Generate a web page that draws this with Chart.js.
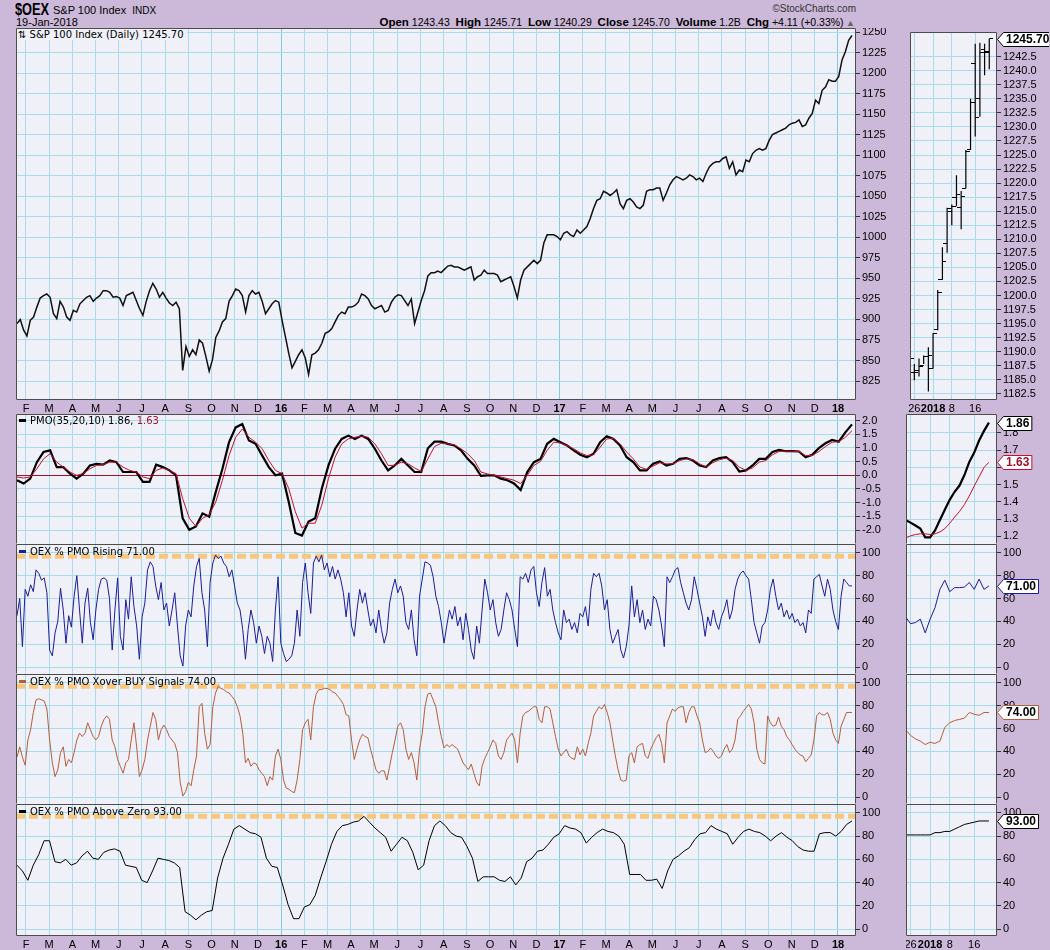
<!DOCTYPE html>
<html>
<head>
<meta charset="utf-8">
<script src="https://cdn.jsdelivr.net/npm/chart.js@4"></script>
<style>
body{margin:0;width:1050px;height:950px;background:#ccb8d8;position:relative;overflow:hidden;font-family:"Liberation Sans",Arial,sans-serif;}
canvas{position:absolute;z-index:1;}
.t{position:absolute;white-space:nowrap;color:#000;z-index:5;}
.leg{position:absolute;white-space:nowrap;font:10px "DejaVu Sans",sans-serif;color:#000;z-index:5;}
.leg i{display:inline-block;width:7px;height:3px;vertical-align:middle;margin:0 4px 2px 1px;}
</style>
</head>
<body>

<div class="t" style="left:15px;top:1px;font-size:16px;font-weight:bold;transform:scaleX(0.8);transform-origin:0 0">$OEX</div>
<div class="t" style="left:53px;top:4px;font-size:11px">S&amp;P 100 Index&nbsp; <span style="font-size:10px">INDX</span></div>
<div class="t" style="left:16px;top:16px;font-size:11px">19-Jan-2018</div>
<div class="t" style="right:194px;top:3px;font-size:10px;color:#333">&copy;StockCharts.com</div>
<div class="t" style="right:195px;top:16px;font-size:10.5px"><b style="font-size:11.5px">Open</b> 1243.43 &nbsp;<b style="font-size:11.5px">High</b> 1245.71 &nbsp;<b style="font-size:11.5px">Low</b> 1240.29 &nbsp;<b style="font-size:11.5px">Close</b> 1245.70 &nbsp;<b style="font-size:11.5px">Volume</b> 1.2B &nbsp;<b style="font-size:11.5px">Chg</b> +4.11 (+0.33%)<span style="color:#666;font-size:9px"> &#9650;</span></div>

<div id="legends"></div>

<script>
// ---- data ----------------------------------------------------------------
// month labels of the main x axis (Feb 2015 .. Jan 2018)
const MONTHS = ['F','M','A','M','J','J','A','S','O','N','D','16','F','M','A','M','J','J','A','S','O','N','D','17','F','M','A','M','J','J','A','S','O','N','D','18'];

// S&P 100 daily close, read every 3rd session from 20-Jan-2015 to 19-Jan-2018
const PRICE = [
895,900,887,880,899,903,915,926,929,931,
927,907,901,922,915,903,899,911,909,919,
923,927,929,922,926,929,935,935,933,927,
928,926,917,929,931,933,923,913,905,922,
935,944,937,927,933,926,920,917,921,913,
838,867,855,863,857,875,871,855,837,851,
878,886,897,901,922,929,937,935,929,909,
929,935,931,933,922,907,913,919,923,921,
899,879,859,841,849,857,863,853,833,857,
859,863,871,883,885,889,897,905,909,907,
915,915,917,921,931,929,925,917,913,915,
917,909,911,921,927,930,929,923,917,925,
895,909,923,935,953,957,957,959,957,961,
965,966,964,964,962,960,962,964,948,952,
954,960,956,956,956,954,946,948,950,952,
940,926,948,960,964,968,972,968,972,993,
1003,1003,1003,1001,997,1005,1007,1003,1001,1009,
1005,1009,1013,1023,1035,1045,1047,1056,1054,1051,
1054,1058,1041,1035,1045,1047,1043,1037,1035,1039,
1056,1058,1058,1060,1060,1045,1054,1064,1070,1074,
1072,1070,1072,1076,1074,1070,1072,1068,1078,1086,
1090,1092,1092,1096,1098,1084,1092,1076,1082,1080,
1094,1092,1102,1106,1108,1106,1108,1118,1125,1127,
1129,1131,1133,1137,1139,1140,1143,1135,1137,1145,
1151,1167,1163,1179,1183,1192,1190,1190,1196,1216,
1226,1240,1245.7];

// PMO(35,20,10) and its signal line, every 6th session
const PMO = [
-0.18,-0.30,-0.12,0.48,0.85,0.91,0.30,0.30,0.06,-0.12,
0.06,0.36,0.42,0.39,0.54,0.48,0.12,0.12,0.12,-0.24,
-0.24,0.39,0.30,0.18,0.0,-1.57,-1.99,-1.87,-1.39,-1.51,
-0.60,0.24,1.21,1.75,1.87,1.27,1.15,0.72,0.30,0.0,
0.06,-0.97,-2.11,-2.20,-1.69,-1.57,-0.48,0.36,0.97,1.33,
1.45,1.33,1.45,1.33,0.97,0.54,0.18,0.36,0.60,0.36,
0.12,0.12,0.99,1.23,1.23,1.15,1.09,0.91,0.60,0.36,
-0.02,0.0,0.0,-0.12,-0.18,-0.30,-0.54,0.12,0.48,0.60,
1.15,1.33,1.21,1.09,0.91,0.75,0.66,0.79,1.21,1.43,
1.33,1.09,0.66,0.48,0.18,0.18,0.42,0.51,0.36,0.42,
0.60,0.63,0.54,0.36,0.30,0.54,0.63,0.66,0.48,0.14,
0.18,0.36,0.60,0.60,0.85,0.93,0.88,0.88,0.87,0.66,
0.75,0.99,1.17,1.29,1.23,1.57,1.86];
const PMO_SIGNAL = [
-0.06,-0.10,-0.06,0.24,0.60,0.79,0.48,0.30,0.12,0.0,
0.06,0.24,0.36,0.39,0.48,0.48,0.30,0.18,0.12,-0.06,
-0.12,0.18,0.27,0.18,0.06,-0.85,-1.57,-1.87,-1.57,-1.45,
-0.97,-0.18,0.72,1.39,1.69,1.39,1.21,0.97,0.54,0.18,
0.06,-0.48,-1.33,-1.93,-1.75,-1.75,-1.09,-0.12,0.66,1.15,
1.33,1.39,1.43,1.39,1.15,0.79,0.36,0.36,0.48,0.42,
0.27,0.14,0.60,1.05,1.17,1.15,1.11,0.97,0.79,0.54,
0.12,0.05,0.0,-0.06,-0.12,-0.18,-0.30,0.0,0.36,0.51,
0.91,1.21,1.18,1.09,0.97,0.82,0.72,0.75,1.03,1.33,
1.35,1.15,0.85,0.60,0.30,0.22,0.34,0.46,0.42,0.42,
0.54,0.60,0.57,0.42,0.30,0.46,0.57,0.63,0.54,0.30,
0.18,0.27,0.48,0.54,0.75,0.87,0.88,0.88,0.87,0.72,
0.72,0.87,1.05,1.21,1.23,1.39,1.63];

// OEX % PMO Rising, every 2-3 sessions
const RISING = [
45,60,18,68,62,72,66,85,82,76, 78,65,15,10,30,40,69,50,21,45,
35,62,80,50,21,56,69,39,24,50, 68,77,78,76,60,15,50,78,27,15,
59,42,79,53,36,7,44,56,85,92, 88,71,59,74,50,56,36,50,65,36,
10,1,36,50,44,71,88,95,65,50, 18,74,91,98,95,97,91,88,79,85,
71,56,50,33,7,33,50,39,21,36, 27,12,27,21,5,50,79,21,12,5,
7,10,21,50,27,74,91,65,47,91, 97,92,98,85,91,79,88,77,85,77,
65,44,65,36,27,50,68,56,65,50, 36,42,30,50,33,21,30,56,68,77,
65,71,62,39,33,50,24,10,62,77, 92,91,89,79,62,53,39,21,36,50,
42,53,36,44,24,47,33,15,7,36, 21,50,77,65,50,59,39,27,33,50,
65,59,50,33,18,79,77,82,74,85, 88,65,53,74,87,62,68,50,39,30,
24,50,39,42,33,39,30,47,44,53, 36,68,82,79,82,71,50,59,33,21,
27,33,15,8,18,36,71,44,59,39, 50,33,42,36,62,59,50,36,18,79,
74,79,85,87,74,65,56,50,59,79, 68,56,44,27,44,36,50,39,33,44,
50,59,42,50,68,77,82,84,80,77, 59,39,30,21,36,39,50,68,77,62,
50,56,44,50,42,47,39,42,36,39, 30,50,47,77,79,81,71,62,77,68,
50,40,33,62,77,74,71,71];

// OEX % PMO Xover BUY Signals, every 2-3 sessions
const XOVER = [
35,44,35,28,50,59,74,85,86,85, 84,77,50,30,18,24,39,44,27,33,
30,39,50,56,53,56,65,59,53,50, 53,62,68,71,68,50,44,33,27,21,
30,33,50,65,44,18,24,33,50,62, 74,68,50,59,63,59,53,50,47,39,
13,1,5,13,10,24,36,79,82,56, 42,46,79,91,97,95,94,92,91,88,
85,79,71,56,30,34,27,30,29,24, 21,18,10,18,15,36,42,33,15,8,
7,5,4,15,33,59,65,68,50,79, 90,94,94,95,95,94,92,91,88,85,
81,72,71,50,33,42,50,55,53,52, 42,33,24,21,23,23,15,27,39,50,
62,65,59,42,33,39,30,15,42,56, 79,90,91,85,79,65,53,43,46,44,
46,44,42,36,30,27,24,29,21,13, 10,27,34,39,44,50,47,36,33,39,
50,53,56,50,30,56,71,74,75,77, 79,79,68,65,79,79,77,65,53,42,
36,39,42,36,34,33,44,37,42,36, 47,56,71,75,79,77,81,74,65,50,
36,24,15,14,15,36,39,30,44,46, 47,36,34,42,47,52,55,47,30,65,
71,77,75,78,79,79,65,74,79,79, 71,65,50,39,40,43,40,36,34,36,
42,46,39,42,50,68,71,75,78,81, 77,65,42,33,30,29,71,65,62,63,
70,62,59,53,50,46,42,39,37,36, 31,34,37,50,71,74,72,72,74,68,
56,50,47,62,68,74,74,74];

// OEX % PMO Above Zero, every 5 sessions
const ABOVE_ZERO = [
55,50,42,55,64,76,76,58,57,60, 55,57,63,67,61,60,66,68,69,67,
55,54,53,42,40,50,61,60,59,57, 53,15,12,8,12,15,16,44,61,73,
86,89,86,83,82,79,61,54,53,38, 21,9,9,19,21,29,44,58,73,84,
89,90,92,93,97,92,87,83,79,67, 73,79,76,66,51,55,76,89,93,89,
83,80,79,71,61,41,45,45,45,42, 41,45,38,44,58,61,67,68,73,79,
82,89,87,86,83,74,79,83,86,84, 83,80,73,47,47,47,42,42,43,35,
50,60,63,67,70,77,82,83,89,86, 84,82,73,79,84,86,84,83,80,76,
80,83,79,76,71,68,67,67,82,83, 83,80,84,90,93];

// right-hand close-up: last 18 sessions (22-Dec-2017 .. 19-Jan-2018)
const R_DAYS   = ['22','26','27','28','29','2','3','4','5','8','9','10','11','12','16','17','18','19'];
const R_HIGH   = [1189.6,1187.8,1188.8,1189.3,1190.8,1193.3,1201.0,1208.6,1215.6,1216.2,1221.4,1218.6,1225.9,1235.0,1244.8,1245.0,1244.8,1245.71];
const R_LOW    = [1187.9,1184.9,1185.6,1187.8,1182.9,1187.0,1193.8,1202.8,1207.6,1212.5,1215.9,1211.8,1219.1,1225.9,1228.3,1231.8,1239.2,1240.29];
const R_OPEN   = [1189.0,1186.3,1186.7,1187.6,1189.2,1187.0,1194.0,1202.8,1209.2,1214.9,1217.4,1215.6,1219.1,1226.0,1241.3,1235.0,1243.7,1243.43];
const R_CLOSE  = [1188.8,1186.3,1187.3,1189.2,1189.3,1193.3,1200.6,1206.1,1215.5,1215.9,1218.0,1217.7,1225.7,1234.3,1231.7,1243.3,1243.3,1245.70];
const R_PMO    = [1.295,1.280,1.263,1.245,1.195,1.195,1.235,1.295,1.355,1.412,1.459,1.495,1.556,1.632,1.686,1.756,1.812,1.86];
const R_SIGNAL = [1.191,1.203,1.211,1.215,1.215,1.211,1.215,1.226,1.245,1.276,1.312,1.345,1.385,1.435,1.492,1.546,1.600,1.63];
const R_RISING = [44,38,39,42,30,42,52,68,76,66,69.5,69.5,70,74,68,77,68,71];
const R_XOVER  = [59,54,51,49,46,48,47,49,61,65,67,68,69,74,72.5,71.5,74,74];
const R_ABOVE  = [81,81,81,81,81,81,83,83,84,84,86,88,90,91,92,93,93,93];
const R_TICK_DAYS = [1,5,9,14];  // 26, 2018, 8, 16

// tick values
const PRICE_TICKS = [825,850,875,900,925,950,975,1000,1025,1050,1075,1100,1125,1150,1175,1200,1225,1250];
const PMO_TICKS = [-2,-1.5,-1,-0.5,0,0.5,1,1.5,2];
const PCT_TICKS = [0,20,40,60,80,100];
const R_PRICE_TICKS = [1182.5,1185,1187.5,1190,1192.5,1195,1197.5,1200,1202.5,1205,1207.5,1210,1212.5,1215,1217.5,1220,1222.5,1225,1227.5,1230,1232.5,1235,1237.5,1240,1242.5];
const R_PMO_TICKS = [1.2,1.3,1.4,1.5,1.6,1.7,1.8];
const SIGNAL_LEVEL = 97;

// ---- look ----------------------------------------------------------------
const PLOT_BG = '#eff0f8';
const GRID = '#a9dcea';
const GRID_YEAR = '#82c8e0';
const FRAME = '#4d4d4d';
const FONT = '"Liberation Sans", Arial, sans-serif';

// x in months: 1 = start of Feb 2015
const X_MIN = 0.569, X_MAX = 36.776;
const FIRST = 0.612, LAST = 36.603;

Chart.defaults.font.family = FONT;
Chart.defaults.font.size = 11;
Chart.defaults.color = '#000';

// plot background + panel frame
Chart.register({
  id: 'frame',
  beforeDraw(chart) {
    const a = chart.chartArea, ctx = chart.ctx;
    ctx.save();
    ctx.fillStyle = PLOT_BG;
    ctx.fillRect(a.left, a.top, a.right - a.left, a.bottom - a.top);
    ctx.restore();
  },
  afterDraw(chart, args, opts) {
    const a = chart.chartArea, ctx = chart.ctx;
    const l = a.left + 0.5, r = a.right - 0.5, t = a.top + 0.5, b = a.bottom - 0.5;
    ctx.save();
    ctx.strokeStyle = FRAME;
    ctx.lineWidth = 1;
    ctx.beginPath();
    ctx.moveTo(l, b); ctx.lineTo(l, t); ctx.lineTo(r, t); ctx.lineTo(r, b);
    if (opts.bottom !== false) ctx.lineTo(l, b);
    ctx.stroke();
    ctx.restore();
  }
});

// last value boxes on the right axis
Chart.register({
  id: 'tags',
  afterDraw(chart, args, opts) {
    const items = opts.items || [];
    const ctx = chart.ctx, ys = chart.scales.y, right = chart.chartArea.right;
    ctx.save();
    ctx.font = 'bold 12px ' + FONT;
    ctx.textBaseline = 'middle';
    items.forEach(t => {
      const py = Math.round(ys.getPixelForValue(t.value)) + 0.5;
      const w = ctx.measureText(t.text).width + 5;
      const x0 = right + 0.5, x1 = x0 + 6, x2 = x1 + w;
      ctx.beginPath();
      ctx.moveTo(x0, py); ctx.lineTo(x1, py - 7); ctx.lineTo(x2, py - 7);
      ctx.lineTo(x2, py + 7); ctx.lineTo(x1, py + 7); ctx.closePath();
      ctx.fillStyle = '#fff'; ctx.fill();
      ctx.strokeStyle = t.border; ctx.lineWidth = 1; ctx.stroke();
      ctx.fillStyle = t.color || '#000';
      ctx.fillText(t.text, x1 + 2.5, py + 0.5);
    });
    ctx.restore();
  }
});

// ---- helpers -------------------------------------------------------------
function spread(values) {
  const n = values.length;
  return values.map((v, i) => ({ x: FIRST + (LAST - FIRST) * i / (n - 1), y: v }));
}
function byDay(values) {
  return values.map((v, i) => ({ x: i, y: v }));
}
function line(data, color, width, extra) {
  return Object.assign({ data, borderColor: color, borderWidth: width, pointRadius: 0, tension: 0, fill: false }, extra || {});
}
function refLine() {
  return line([{ x: X_MIN, y: SIGNAL_LEVEL }, { x: X_MAX, y: SIGNAL_LEVEL }], '#f8c67c', 5, { borderDash: [9, 4], order: 5 });
}
const isYear = s => /^\d+$/.test(s);

function xMain(labels) {
  return {
    type: 'linear', min: X_MIN, max: X_MAX,
    afterBuildTicks: s => { s.ticks = MONTHS.map((m, i) => ({ value: i + 1 })); },
    ticks: {
      display: labels, autoSkip: false, maxRotation: 0, padding: 2,
      font: c => ({ family: FONT, size: 11, weight: isYear(MONTHS[c.index]) ? 'bold' : 'normal' }),
      callback: (v, i) => MONTHS[i]
    },
    grid: { drawTicks: false, color: c => (c.tick && isYear(MONTHS[c.tick.value - 1])) ? GRID_YEAR : GRID },
    border: { display: false },
    afterFit: s => { s.height = labels ? 14 : 0; s.paddingLeft = 0; s.paddingRight = 0; }
  };
}
function xRight(labels) {
  return {
    type: 'linear', min: 0.08, max: 18.65,
    afterBuildTicks: s => { s.ticks = R_TICK_DAYS.map(v => ({ value: v })); },
    ticks: {
      display: labels, autoSkip: false, maxRotation: 0, padding: 2,
      font: c => ({ family: FONT, size: 11, weight: c.index === 1 ? 'bold' : 'normal' }),
      callback: (v) => (v === 5 ? '2018' : R_DAYS[v])
    },
    grid: { drawTicks: false, color: GRID },
    border: { display: false },
    afterFit: s => { s.height = labels ? 14 : 0; s.paddingLeft = 0; s.paddingRight = 0; }
  };
}
function yAxis(min, max, ticks, fmt, width, zeroColor) {
  return {
    type: 'linear', position: 'right', min, max,
    afterBuildTicks: s => { s.ticks = ticks.map(v => ({ value: v })); },
    ticks: { autoSkip: false, padding: 2, callback: v => fmt(v) },
    grid: {
      drawTicks: true, tickLength: 4, tickColor: '#333',
      color: c => (zeroColor && c.tick && c.tick.value === 0) ? zeroColor : GRID
    },
    border: { display: false },
    afterFit: s => { s.width = width; s.paddingTop = 0; s.paddingBottom = 0; }
  };
}

function panel(x, y, w, h, cfg) {
  const c = document.createElement('canvas');
  c.width = w; c.height = h;
  c.style.left = x + 'px'; c.style.top = y + 'px';
  document.body.appendChild(c);
  return new Chart(c, {
    type: 'line',
    data: { datasets: cfg.datasets },
    options: {
      responsive: false, animation: false, events: [],
      layout: { padding: 0 },
      scales: { x: cfg.x, y: cfg.y },
      plugins: {
        legend: { display: false }, tooltip: { enabled: false },
        frame: { bottom: cfg.bottom !== false },
        tags: { items: cfg.tags || [] }
      }
    }
  });
}

// ---- layout --------------------------------------------------------------
const L = 16, W = 840, AX = 44;        // main panels
const RL = 906, RW = 91, RAX = 52;     // right close-up panels
const PH = 130;                         // indicator panel height
const TOP_PRICE = 28, H_PRICE = 372;
const TOP_PMO = 414, TOP_RISE = 544, TOP_XOVER = 674, TOP_ABOVE = 804;

const fmt0 = v => String(v);
const fmt1 = v => v.toFixed(1);
const PCT_MIN = -5.9, PCT_MAX = 107.6;

// main price
panel(L, TOP_PRICE, W + AX, H_PRICE + 14, {
  x: xMain(true),
  y: yAxis(801.9, 1254.9, PRICE_TICKS, fmt0, AX),
  datasets: [line(spread(PRICE), '#111', 1.5)]
});
// PMO
panel(L, TOP_PMO, W + AX, PH, {
  x: xMain(false), bottom: false,
  y: yAxis(-2.51, 2.24, PMO_TICKS, fmt1, AX, '#a3122e'),
  datasets: [
    line(spread(PMO_SIGNAL), '#c8102e', 1),
    line(spread(PMO), '#000', 2.2)
  ]
});
// % PMO rising
panel(L, TOP_RISE, W + AX, PH, {
  x: xMain(false), bottom: false,
  y: yAxis(PCT_MIN, PCT_MAX, PCT_TICKS, fmt0, AX),
  datasets: [refLine(), line(spread(RISING), '#1d1d96', 1)]
});
// % PMO xover buy
panel(L, TOP_XOVER, W + AX, PH, {
  x: xMain(false), bottom: false,
  y: yAxis(PCT_MIN, PCT_MAX, PCT_TICKS, fmt0, AX),
  datasets: [refLine(), line(spread(XOVER), '#b45f3c', 1)]
});
// % PMO above zero
panel(L, TOP_ABOVE, W + AX, PH + 16, {
  x: xMain(true),
  y: yAxis(PCT_MIN, PCT_MAX, PCT_TICKS, fmt0, AX),
  datasets: [refLine(), line(spread(ABOVE_ZERO), '#000', 1)]
});

// right close-up: HLC bars
function tickImage(side) {
  const c = document.createElement('canvas');
  c.width = 8; c.height = 1;
  const g = c.getContext('2d');
  g.fillStyle = '#000';
  g.fillRect(side < 0 ? 0 : 4, 0, 4, 1);
  return c;
}
const hl = [];
R_HIGH.forEach((h, i) => { hl.push({ x: i, y: R_LOW[i] }, { x: i, y: h }, { x: i, y: null }); });

panel(RL, TOP_PRICE, RW + RAX, H_PRICE + 14, {
  x: xRight(true),
  y: yAxis(1181.4, 1246.9, R_PRICE_TICKS, fmt1, RAX),
  datasets: [
    line(hl, '#000', 1.2, { spanGaps: false }),
    line(byDay(R_OPEN), '#000', 0, { showLine: false, pointRadius: 1, pointStyle: tickImage(-1) }),
    line(byDay(R_CLOSE), '#000', 0, { showLine: false, pointRadius: 1, pointStyle: tickImage(1) })
  ],
  tags: [{ value: 1245.70, text: '1245.70', border: '#000' }]
});
panel(RL, TOP_PMO, RW + RAX, PH, {
  x: xRight(false), bottom: false,
  y: yAxis(1.156, 1.91, R_PMO_TICKS, fmt1, RAX),
  datasets: [line(byDay(R_SIGNAL), '#c8102e', 1), line(byDay(R_PMO), '#000', 2.2)],
  tags: [{ value: 1.86, text: '1.86', border: '#000' }, { value: 1.63, text: '1.63', border: '#c8102e', color: '#a3122e' }]
});
panel(RL, TOP_RISE, RW + RAX, PH, {
  x: xRight(false), bottom: false,
  y: yAxis(PCT_MIN, PCT_MAX, PCT_TICKS, fmt0, RAX),
  datasets: [line(byDay(R_RISING), '#1d1d96', 1)],
  tags: [{ value: 71, text: '71.00', border: '#1d1d96' }]
});
panel(RL, TOP_XOVER, RW + RAX, PH, {
  x: xRight(false), bottom: false,
  y: yAxis(PCT_MIN, PCT_MAX, PCT_TICKS, fmt0, RAX),
  datasets: [line(byDay(R_XOVER), '#b45f3c', 1)],
  tags: [{ value: 74, text: '74.00', border: '#b45f3c' }]
});
panel(RL, TOP_ABOVE, RW + RAX, PH + 16, {
  x: xRight(true),
  y: yAxis(PCT_MIN, PCT_MAX, PCT_TICKS, fmt0, RAX),
  datasets: [line(byDay(R_ABOVE), '#000', 1)],
  tags: [{ value: 93, text: '93.00', border: '#000' }]
});

// panel titles
document.getElementById('legends').innerHTML = `
<div class="leg" style="left:17px;top:29px;background:${PLOT_BG};padding:0 3px 0 1px">&#8645; S&amp;P 100 Index (Daily) 1245.70</div>
<div class="leg" style="left:18px;top:415px"><i style="background:#000"></i>PMO(35,20,10) 1.86, <span style="color:#a3122e">1.63</span></div>
<div class="leg" style="left:18px;top:546px"><i style="background:#1d1d96"></i>OEX % PMO Rising 71.00</div>
<div class="leg" style="left:18px;top:676px"><i style="background:#b45f3c"></i>OEX % PMO Xover BUY Signals 74.00</div>
<div class="leg" style="left:18px;top:806px"><i style="background:#000"></i>OEX % PMO Above Zero 93.00</div>`;
</script>
</body>
</html>
